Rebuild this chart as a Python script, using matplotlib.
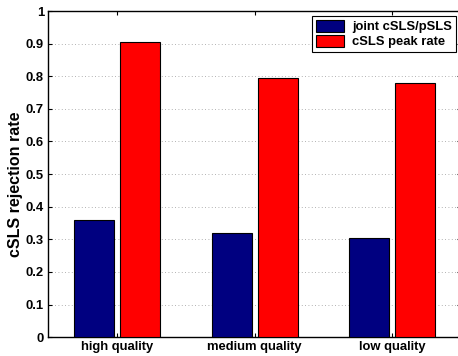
import numpy as np
import matplotlib
matplotlib.use("Agg")
import matplotlib.pyplot as plt

plt.rcParams['font.family'] = ['Liberation Sans', 'DejaVu Sans']
plt.rcParams['font.weight'] = 'bold'

# data
categories = ['high quality', 'medium quality', 'low quality']
joint = [0.36, 0.32, 0.305]
peak = [0.905, 0.795, 0.78]
series_names = ['joint cSLS/pSLS', 'cSLS peak rate']

fig = plt.figure(figsize=(4.58, 3.56), dpi=100)
ax = fig.add_axes([0.105, 0.053, 0.902, 0.916])

x = np.arange(1, len(categories) + 1)
w = 0.29
ax.bar(x - 0.167, joint, w, color='#000080', edgecolor='black', linewidth=0.8,
       label=series_names[0], zorder=3)
ax.bar(x + 0.167, peak, w, color='#ff0000', edgecolor='black', linewidth=0.8,
       label=series_names[1], zorder=3)

ax.set_xlim(0.5, 3.5)
ax.set_ylim(0, 1)
ax.set_xticks(x)
ax.set_xticklabels(categories, fontsize=9.4, fontweight='bold')
ax.set_yticks(np.arange(0, 1.01, 0.1))
ax.set_yticklabels(['0', '0.1', '0.2', '0.3', '0.4', '0.5', '0.6', '0.7',
                    '0.8', '0.9', '1'], fontsize=9.4, fontweight='bold')
ax.tick_params(direction='in', length=3, top=True, right=True, pad=3)
ax.yaxis.grid(True, linestyle=(0, (1, 3)), color='#999999', linewidth=0.6, zorder=0)
ax.set_ylabel('cSLS rejection rate', fontsize=11.5, fontweight='bold')
ax.yaxis.set_label_coords(-0.06, 0.47)

for s in ax.spines.values():
    s.set_linewidth(1.0)

leg = ax.legend(loc='upper right', fontsize=9.4, frameon=True, fancybox=False,
                edgecolor='black', framealpha=1, borderpad=0.3, handlelength=2.2,
                handleheight=1.0, handletextpad=0.6, labelspacing=0.12,
                borderaxespad=0.4)
leg.get_frame().set_linewidth(0.8)
for t in leg.get_texts():
    t.set_fontweight('bold')

fig.savefig('out.png', dpi=100)
